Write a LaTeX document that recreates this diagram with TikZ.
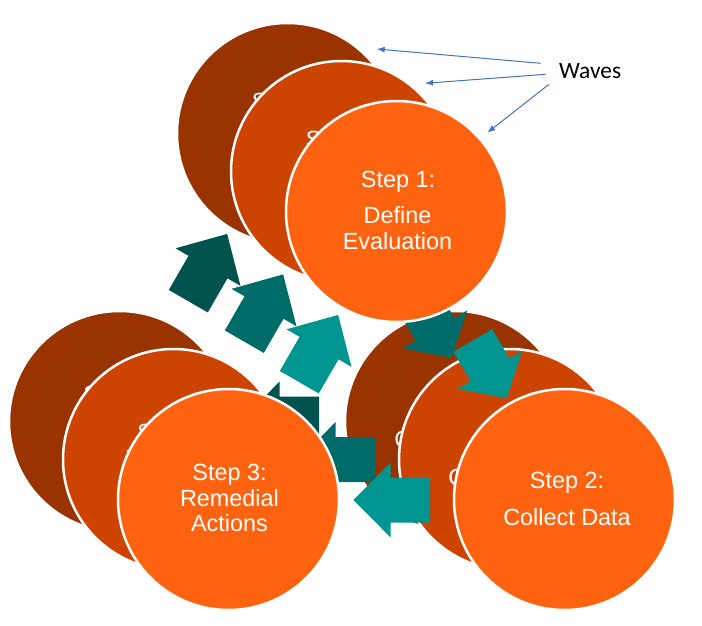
\documentclass[tikz,border=0pt]{standalone}
\usepackage{fontspec}
\setmainfont{Liberation Sans}
\newfontfamily\wavesfont{Carlito}
\usetikzlibrary{arrows.meta}
\definecolor{cback}{HTML}{993300}
\definecolor{cmid}{HTML}{CC4400}
\definecolor{cfront}{HTML}{FF6310}
\definecolor{aback}{HTML}{00524F}
\definecolor{amid}{HTML}{006C69}
\definecolor{afront}{HTML}{009590}
\definecolor{waveblue}{HTML}{4472C4}
\tikzset{
  stepcircle/.style={circle, draw=white, line width=2.5pt, minimum size=221pt, inner sep=0pt},
  steptext/.style={text=white, font=\fontsize{23.4}{26}\selectfont, anchor=base, inner sep=0pt},
  wavearrow/.style={draw=waveblue, line width=1pt, -{Latex[length=8pt,width=6pt]}},
  wavelabel/.style={font=\wavesfont\fontsize{23.4}{28}\selectfont, anchor=base west, inner sep=0pt},
}
% color, tail x, tail y, angle, shaft length, head length
\newcommand\blockarrow[6]{%
  \fill[#1, shift={(#2,#3)}, rotate=#4] (0,-22.5) -- (#5,-22.5) -- (#5,-37.5) -- ({#5+#6},0) -- (#5,37.5) -- (#5,22.5) -- (0,22.5) -- cycle;}
% prefix, circle dx, dy, arrow dx, dy, circle colour, arrow colour
\newcommand\steplayer[7]{%
  \begin{scope}[shift={(#2,#3)}, name prefix=#1-]
    \node[stepcircle, fill=#6] (c1) at (396.5,211.5) {};
    \node[steptext] (c1a) at (398,187.3) {Step 1:};
    \node[steptext] (c1b) at (397.5,223.3) {Define};
    \node[steptext] (c1c) at (397.5,249.3) {Evaluation};
    \node[stepcircle, fill=#6] (c2) at (564.5,499.5) {};
    \node[steptext] (c2a) at (567,488.3) {Step 2:};
    \node[steptext] (c2b) at (567,525) {Collect Data};
    \node[stepcircle, fill=#6] (c3) at (228.5,499.5) {};
    \node[steptext] (c3a) at (229.5,480) {Step 3:};
    \node[steptext] (c3b) at (229.5,506) {Remedial};
    \node[steptext] (c3c) at (229.5,531.7) {Actions};
  \end{scope}
  \begin{scope}[shift={(#4,#5)}]
    \blockarrow{#7}{299.3}{382.2}{60}{39.4}{38.3}
    \blockarrow{#7}{472.8}{340.5}{-59.6}{34}{33}
    \blockarrow{#7}{430}{500}{180}{39.3}{37.3}
  \end{scope}}
\begin{document}
\begin{tikzpicture}[x=1pt,y=-1pt]
  \useasboundingbox (0,0) rectangle (702,626);
  \steplayer{back}{-109}{-78}{-111}{-81}{cback}{aback}
  \steplayer{mid}{-55}{-40}{-55}{-40.5}{cmid}{amid}
  \steplayer{front}{0}{0}{0}{0}{cfront}{afront}
  \node[wavelabel] (waves) at (559,79) {Waves};
  \coordinate (w1s) at (540.7,63.3);
  \coordinate (w2s) at (545.7,74.3);
  \coordinate (w3s) at (549,84.3);
  \coordinate (w1e) at (376.7,49);
  \coordinate (w2e) at (425,83.3);
  \coordinate (w3e) at (487.3,132.7);
  \draw[wavearrow] (w1s) -- (w1e);
  \draw[wavearrow] (w2s) -- (w2e);
  \draw[wavearrow] (w3s) -- (w3e);
\end{tikzpicture}
\end{document}
